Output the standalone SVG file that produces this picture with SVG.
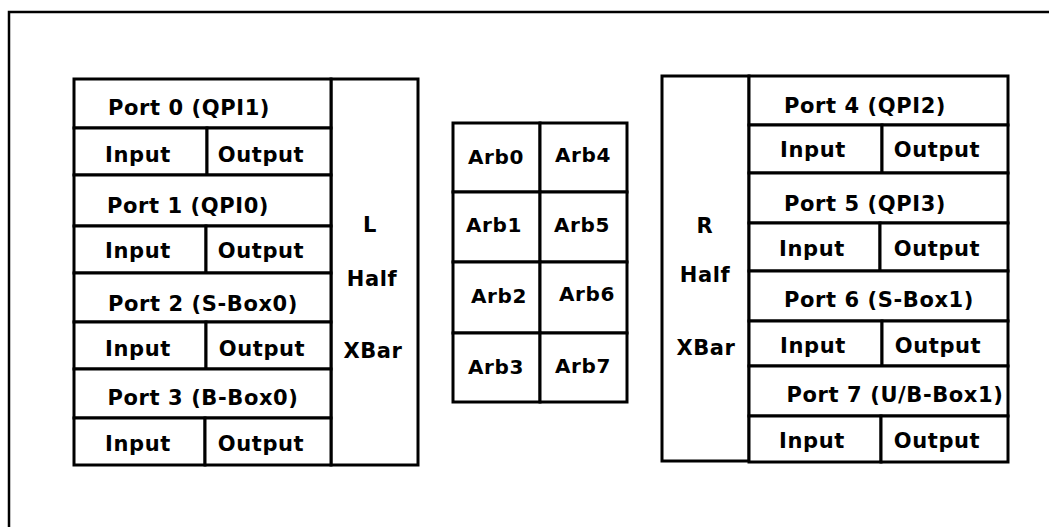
<svg xmlns="http://www.w3.org/2000/svg" width="1049" height="527" viewBox="0 0 1049 527">
<style>
.c{fill:#fff;stroke:#000;stroke-width:3}
.t{font-family:"DejaVu Sans","Verdana",sans-serif;font-weight:bold;font-size:21px;letter-spacing:0.6px;fill:#000;text-anchor:middle}
.a{font-size:20px}
.f{fill:none;stroke:#000;stroke-width:2.5}
</style>
<rect width="1049" height="527" fill="#fff"/>
<path class="f" d="M9,527 V12 H1049"/>
<g id="left-xbar"><rect class="c" x="331" y="79" width="87" height="386"/><text class="t" x="370" y="232">L</text><text class="t" x="372" y="286">Half</text><text class="t" x="373" y="358">XBar</text></g>
<g id="port0"><rect class="c" x="74" y="79" width="257" height="49"/><text class="t" x="189" y="115">Port 0 (QPI1)</text><rect class="c" x="74" y="128" width="133" height="47"/><text class="t" x="138" y="162">Input</text><rect class="c" x="207" y="128" width="124" height="47"/><text class="t" x="261" y="162">Output</text></g>
<g id="port1"><rect class="c" x="74" y="175" width="257" height="51"/><text class="t" x="188" y="213">Port 1 (QPI0)</text><rect class="c" x="74" y="226" width="132" height="47"/><text class="t" x="138" y="258">Input</text><rect class="c" x="206" y="226" width="125" height="47"/><text class="t" x="261" y="258">Output</text></g>
<g id="port2"><rect class="c" x="74" y="273" width="257" height="49"/><text class="t" x="203" y="311">Port 2 (S-Box0)</text><rect class="c" x="74" y="322" width="132" height="47"/><text class="t" x="138" y="356">Input</text><rect class="c" x="206" y="322" width="125" height="47"/><text class="t" x="262" y="356">Output</text></g>
<g id="port3"><rect class="c" x="74" y="369" width="257" height="49"/><text class="t" x="203" y="405">Port 3 (B-Box0)</text><rect class="c" x="74" y="418" width="131" height="47"/><text class="t" x="138" y="451">Input</text><rect class="c" x="205" y="418" width="126" height="47"/><text class="t" x="261" y="451">Output</text></g>
<g id="arbiters">
<g id="arb0"><rect class="c" x="453" y="123" width="87" height="69"/><text class="t a" x="496" y="164">Arb0</text></g>
<g id="arb4"><rect class="c" x="540" y="123" width="87" height="69"/><text class="t a" x="583" y="162">Arb4</text></g>
<g id="arb1"><rect class="c" x="453" y="192" width="87" height="70"/><text class="t a" x="494" y="232">Arb1</text></g>
<g id="arb5"><rect class="c" x="540" y="192" width="87" height="70"/><text class="t a" x="582" y="232">Arb5</text></g>
<g id="arb2"><rect class="c" x="453" y="262" width="87" height="71"/><text class="t a" x="499" y="303">Arb2</text></g>
<g id="arb6"><rect class="c" x="540" y="262" width="87" height="71"/><text class="t a" x="587" y="301">Arb6</text></g>
<g id="arb3"><rect class="c" x="453" y="333" width="87" height="69"/><text class="t a" x="496" y="374">Arb3</text></g>
<g id="arb7"><rect class="c" x="540" y="333" width="87" height="69"/><text class="t a" x="583" y="373">Arb7</text></g>
</g>
<g id="right-xbar"><rect class="c" x="662" y="76" width="87" height="385"/><text class="t" x="705" y="233">R</text><text class="t" x="705" y="282">Half</text><text class="t" x="706" y="355">XBar</text></g>
<g id="port4"><rect class="c" x="749" y="76" width="259" height="49"/><text class="t" x="865" y="113">Port 4 (QPI2)</text><rect class="c" x="749" y="125" width="133" height="48"/><text class="t" x="813" y="157">Input</text><rect class="c" x="882" y="125" width="126" height="48"/><text class="t" x="937" y="157">Output</text></g>
<g id="port5"><rect class="c" x="749" y="173" width="259" height="50"/><text class="t" x="865" y="211">Port 5 (QPI3)</text><rect class="c" x="749" y="223" width="131" height="48"/><text class="t" x="812" y="256">Input</text><rect class="c" x="880" y="223" width="128" height="48"/><text class="t" x="937" y="256">Output</text></g>
<g id="port6"><rect class="c" x="749" y="271" width="259" height="50"/><text class="t" x="879" y="307">Port 6 (S-Box1)</text><rect class="c" x="749" y="321" width="133" height="45"/><text class="t" x="813" y="353">Input</text><rect class="c" x="882" y="321" width="126" height="45"/><text class="t" x="938" y="353">Output</text></g>
<g id="port7"><rect class="c" x="749" y="366" width="259" height="50"/><text class="t" x="895" y="402">Port 7 (U/B-Box1)</text><rect class="c" x="749" y="416" width="132" height="46"/><text class="t" x="812" y="448">Input</text><rect class="c" x="881" y="416" width="127" height="46"/><text class="t" x="937" y="448">Output</text></g>
<g id="connectors"/>
</svg>
